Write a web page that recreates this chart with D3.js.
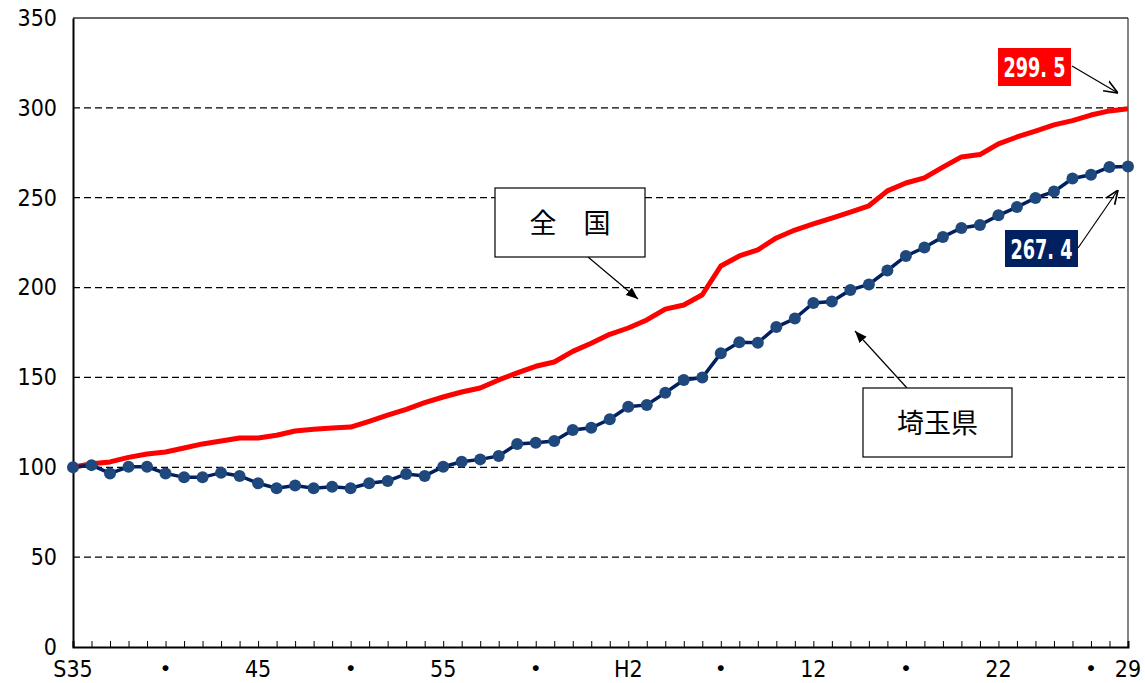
<!DOCTYPE html>
<html><head><meta charset="utf-8">
<script src="https://cdn.jsdelivr.net/npm/d3@7"></script>
<style>
body{margin:0;background:#fff;}
svg{display:block;}
.num{font-family:"Liberation Sans Narrow","DejaVu Sans Condensed","Noto Sans CJK JP",sans-serif;}
.jp{font-family:"Noto Sans CJK JP",sans-serif;}
</style></head>
<body>
<svg id="c" width="1145" height="683"></svg>
<script>
const years = d3.range(0, 58); // S35 (1960) .. H29 (2017)
const xTickLabels = ["S35","・","45","・","55","・","H2","・","12","・","22","・","29"];
const xTickIndex = [0,5,10,15,20,25,30,35,40,45,50,55,57];
const yTicks = [0,50,100,150,200,250,300,350];
const national = [100,102,103,105.5,107.4,108.5,110.7,113,114.6,116.3,116.3,117.8,120.2,121.2,121.9,122.4,125.6,129,132.2,136,139.1,141.9,144.1,148.6,152.5,156.2,158.6,164.5,169,174,177.5,182,188,190.3,196,212,217.6,221,227.6,232,235.4,238.7,242,245.5,253.8,258.2,261,267,272.7,274,280,283.8,287.1,290.5,292.9,296,298.3,299.5];
const saitama = [100,101.2,96.6,100.3,100.3,96.6,94.4,94.4,97,95.2,91.1,88.3,89.8,88.3,89.2,88.3,91.1,92.4,96.3,95.2,100.3,103.1,104.4,106.3,113,113.7,114.6,120.8,122,126.7,133.7,134.7,141.5,148.6,149.9,163.4,169.6,169.3,178,182.8,191.4,192.2,198.7,201.7,209.5,217.6,222.3,228.2,233.2,234.8,240.2,244.8,249.9,253.4,260.7,262.8,267.1,267.4];
const seriesNames = ["全　国","埼玉県"];
const endLabels = ["299. 5","267. 4"];

const svg = d3.select("#c");
const L=73, R=1128, T=18, B=647;
const x = d3.scaleLinear().domain([0,57]).range([L,R]);
const y = d3.scaleLinear().domain([0,350]).range([B,T]);

const defs = svg.append("defs");
defs.append("marker").attr("id","fill").attr("viewBox","0 0 10 10").attr("refX",10).attr("refY",5)
  .attr("markerWidth",12).attr("markerHeight",12).attr("markerUnits","userSpaceOnUse").attr("orient","auto")
  .append("path").attr("d","M0,1 L10,5 L0,9 z").attr("fill","#000");
defs.append("marker").attr("id","open").attr("viewBox","0 0 10 10").attr("refX",10).attr("refY",5)
  .attr("markerWidth",14).attr("markerHeight",14).attr("markerUnits","userSpaceOnUse").attr("orient","auto")
  .append("path").attr("d","M0,1 L10,5 L0,9").attr("fill","none").attr("stroke","#000").attr("stroke-width",1.2);

// gridlines
svg.append("g").selectAll("line").data(yTicks.filter(v=>v>0&&v<350)).join("line")
  .attr("x1",L).attr("x2",R).attr("y1",d=>y(d)).attr("y2",d=>y(d))
  .attr("stroke","#000").attr("stroke-width",1.3).attr("stroke-dasharray","7,4");
// top and right border
svg.append("line").attr("x1",L).attr("x2",R).attr("y1",y(350)).attr("y2",y(350)).attr("stroke","#333").attr("stroke-width",1.5);
svg.append("line").attr("x1",R).attr("x2",R).attr("y1",y(350)).attr("y2",y(0)).attr("stroke","#333").attr("stroke-width",1.2);

// y axis
const yAxis = svg.append("g").attr("transform",`translate(${L},0)`)
  .call(d3.axisLeft(y).tickValues(yTicks).tickSize(0).tickPadding(16));
yAxis.select(".domain").attr("stroke","#000").attr("stroke-width",2);
yAxis.selectAll("text").attr("class","num").attr("font-size",23).attr("fill","#000");

// x axis: minor ticks inside at each year
const xAxis = svg.append("g").attr("transform",`translate(0,${B})`)
  .call(d3.axisTop(x).tickValues(years).tickSize(6).tickFormat(""));
xAxis.select(".domain").attr("stroke","#000").attr("stroke-width",2);
xAxis.selectAll(".tick line").attr("stroke","#000").attr("stroke-width",1);
svg.append("g").selectAll("text").data(xTickIndex).join("text")
  .attr("class","num").attr("x",d=>x(d)).attr("y",677).attr("text-anchor","middle")
  .attr("font-size",23).attr("font-weight",(d,i)=>xTickLabels[i]==="・"?"bold":"normal")
  .attr("fill","#000").text((d,i)=>xTickLabels[i]);

// lines
const line = d3.line().x((d,i)=>x(i)).y(d=>y(d));
svg.append("path").datum(national).attr("d",line).attr("fill","none").attr("stroke","#ff0000").attr("stroke-width",5).attr("stroke-linejoin","round");
svg.append("path").datum(saitama).attr("d",line).attr("fill","none").attr("stroke","#002060").attr("stroke-width",3.5);
svg.append("g").selectAll("circle").data(saitama).join("circle")
  .attr("cx",(d,i)=>x(i)).attr("cy",d=>y(d)).attr("r",6).attr("fill","#1f497d");

// callout boxes
function callout(bx,by,bw,bh,label,ax1,ay1,ax2,ay2){
  svg.append("line").attr("x1",ax1).attr("y1",ay1).attr("x2",ax2).attr("y2",ay2)
    .attr("stroke","#000").attr("stroke-width",1.2).attr("marker-end","url(#fill)");
  svg.append("rect").attr("x",bx).attr("y",by).attr("width",bw).attr("height",bh)
    .attr("fill","#fff").attr("stroke","#000").attr("stroke-width",1.2);
  svg.append("text").attr("class","jp").attr("x",bx+bw/2).attr("y",by+bh/2+10)
    .attr("text-anchor","middle").attr("font-size",27).attr("fill","#000").text(label);
}
callout(495,188,150,69,seriesNames[0],588,257,638,299);
callout(863,388,149,69,seriesNames[1],907,388,855,331);

// end labels
function endLabel(bx,by,bw,bh,fill,label,ax1,ay1,ax2,ay2){
  svg.append("line").attr("x1",ax1).attr("y1",ay1).attr("x2",ax2).attr("y2",ay2)
    .attr("stroke","#000").attr("stroke-width",1.2).attr("marker-end","url(#open)");
  svg.append("rect").attr("x",bx).attr("y",by).attr("width",bw).attr("height",bh).attr("fill",fill);
  svg.append("text").attr("class","num").attr("x",bx+bw/2).attr("y",by+bh/2+10)
    .attr("text-anchor","middle").attr("font-size",27).attr("font-weight","bold").attr("fill","#fff")
    .attr("textLength",62).attr("lengthAdjust","spacingAndGlyphs").text(label);
}
endLabel(998,48,73,38,"#ff0000",endLabels[0],1072,66,1118,93);
endLabel(1005,230,73,37,"#002060",endLabels[1],1078,248,1118,190);
</script>
</body></html>
